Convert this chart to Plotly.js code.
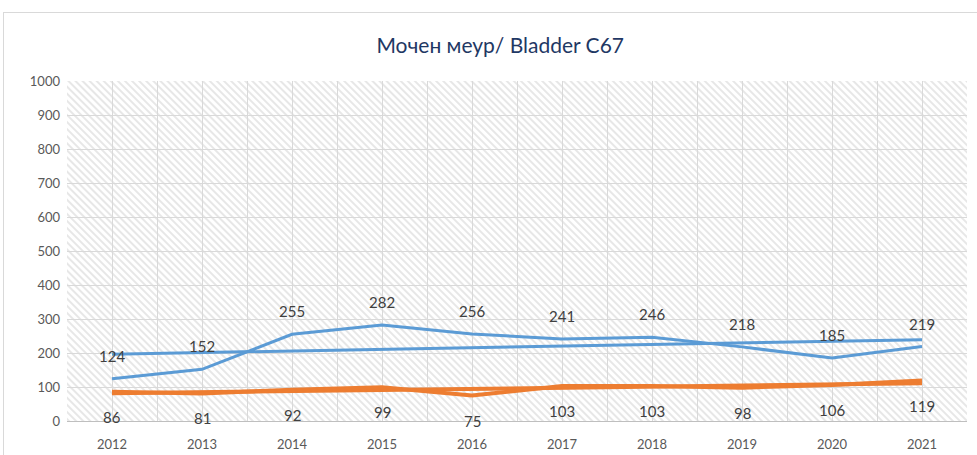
<!DOCTYPE html>
<html>
<head>
<meta charset="utf-8">
<script src="https://cdn.plot.ly/plotly-3.0.1.min.js"></script>
<style>
  html, body { margin: 0; padding: 0; background: #fff; }
  #frame { position: absolute; left: 3px; top: 12px; width: 990px; height: 460px; border: 1px solid #d9d9d9; box-sizing: border-box; }
  #chart { position: absolute; left: 0; top: 0; width: 977px; height: 455px; }
</style>
</head>
<body>
<div id="frame"></div>
<div id="chart"></div>
<script>
const years = [2012, 2013, 2014, 2015, 2016, 2017, 2018, 2019, 2020, 2021];
const bladderBlue = [124, 152, 255, 282, 256, 241, 246, 218, 185, 219];
const bladderOrange = [86, 81, 92, 99, 75, 103, 103, 98, 106, 119];
const yTicks = [0, 100, 200, 300, 400, 500, 600, 700, 800, 900, 1000];
const titleText = 'Мочен меур/ Bladder C67';

function linearTrend(xs, ys) {
  const n = xs.length;
  const mx = xs.reduce((a, b) => a + b, 0) / n;
  const my = ys.reduce((a, b) => a + b, 0) / n;
  let sxy = 0, sxx = 0;
  for (let i = 0; i < n; i++) { sxy += (xs[i] - mx) * (ys[i] - my); sxx += (xs[i] - mx) ** 2; }
  const b = sxy / sxx, a = my - b * mx;
  return xs.map(x => a + b * x);
}

const BLUE = '#5B9BD5', ORANGE = '#ED7D31';
const FONT = 'Lato, "Open Sans", sans-serif';

const traces = [
  { x: years, y: linearTrend(years, bladderBlue), mode: 'lines', line: { color: BLUE, width: 3 }, hoverinfo: 'skip' },
  { x: years, y: bladderBlue, mode: 'lines', line: { color: BLUE, width: 3 } },
  { x: years, y: linearTrend(years, bladderOrange), mode: 'lines', line: { color: ORANGE, width: 4 }, hoverinfo: 'skip' },
  { x: years, y: bladderOrange, mode: 'lines', line: { color: ORANGE, width: 4 } }
];

const annotations = [];
years.forEach((yr, i) => {
  annotations.push({ x: yr, y: bladderBlue[i], text: String(bladderBlue[i]), showarrow: false, yshift: 23,
    font: { family: FONT, size: 15, color: '#404040' } });
  annotations.push({ x: yr, y: bladderOrange[i], text: String(bladderOrange[i]), showarrow: false, yshift: -25,
    font: { family: FONT, size: 15, color: '#404040' } });
});

const svg = "<svg xmlns='http://www.w3.org/2000/svg' width='900' height='340' viewBox='0 0 900 340'>" +
  "<defs><pattern id='p' width='5' height='5' patternUnits='userSpaceOnUse' patternTransform='rotate(-45)'>" +
  "<rect width='5' height='5' fill='#ffffff'/><line x1='1' y1='0' x2='1' y2='5' stroke='#dadada' stroke-width='1.3'/></pattern></defs>" +
  "<rect width='900' height='340' fill='url(#p)'/></svg>";

const layout = {
  width: 977, height: 455,
  margin: { l: 67, r: 10, t: 81, b: 34 },
  paper_bgcolor: 'rgba(0,0,0,0)',
  plot_bgcolor: '#ffffff',
  showlegend: false,
  title: { text: titleText, x: 0.512, xanchor: 'center', y: 0.9, yanchor: 'middle',
    font: { family: FONT, size: 21, color: '#1F3864' } },
  xaxis: {
    range: [2011.5, 2021.5], tickmode: 'array', tickvals: years, ticktext: years.map(String),
    showgrid: true, gridcolor: '#d9d9d9', gridwidth: 1, zeroline: false,
    minor: { dtick: 0.5, tick0: 2011.5, showgrid: true, gridcolor: '#d9d9d9', gridwidth: 1 },
    showline: true, linecolor: '#bfbfbf', linewidth: 1, ticks: '',
    ticklabelstandoff: 11,
    tickfont: { family: FONT, size: 13, color: '#595959' }, fixedrange: true
  },
  yaxis: {
    range: [0, 1000], tickmode: 'array', tickvals: yTicks, ticktext: yTicks.map(String),
    showgrid: true, gridcolor: '#d9d9d9', gridwidth: 1, zeroline: false, showline: false, ticks: '',
    ticklabelstandoff: 6,
    tickfont: { family: FONT, size: 13, color: '#595959' }, fixedrange: true
  },
  images: [{
    source: 'data:image/svg+xml;charset=utf-8,' + encodeURIComponent(svg),
    xref: 'paper', yref: 'paper', x: 0, y: 1, sizex: 1, sizey: 1,
    xanchor: 'left', yanchor: 'top', sizing: 'stretch', layer: 'below'
  }],
  annotations: annotations
};

Plotly.newPlot('chart', traces, layout, { displayModeBar: false, staticPlot: true });
</script>
</body>
</html>
